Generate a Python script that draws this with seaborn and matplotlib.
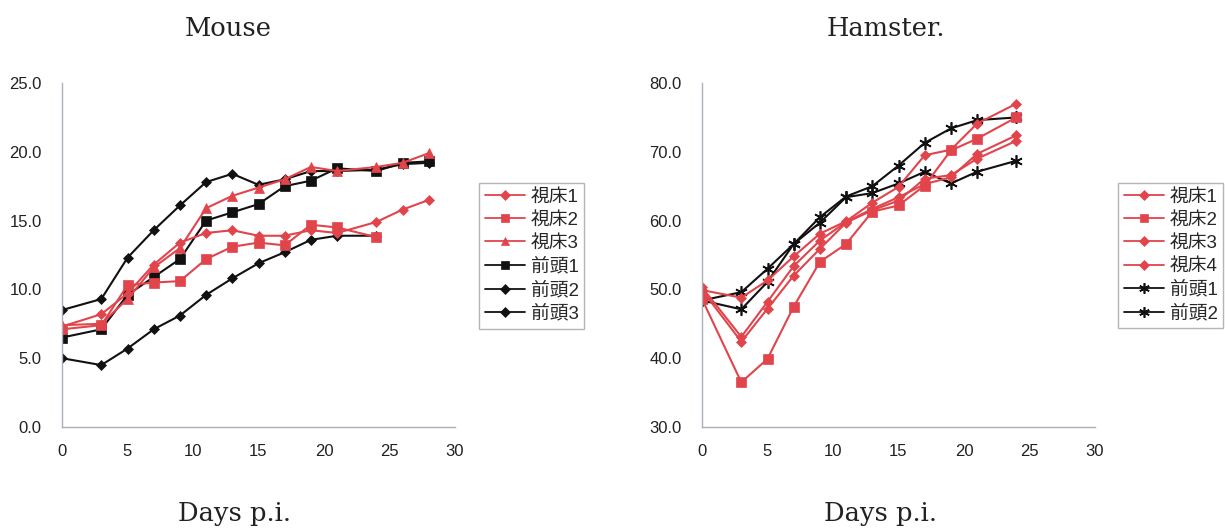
import numpy as np
import pandas as pd
import matplotlib
matplotlib.use("Agg")
import matplotlib.pyplot as plt
import seaborn as sns
from matplotlib.lines import Line2D

# ---------------- data ----------------
mouse_days = [0, 3, 5, 7, 9, 11, 13, 15, 17, 19, 21, 24, 26, 28]
mouse_names = ["視床1", "視床2", "視床3", "前頭1", "前頭2", "前頭3"]
mouse_th1 = [7.3, 8.2, 9.7, 11.8, 13.4, 14.1, 14.3, 13.9, 13.9, 14.3, 14.1, 14.9, 15.8, 16.5]
mouse_th2 = [7.1, 7.4, 10.3, 10.5, 10.6, 12.2, 13.1, 13.4, 13.2, 14.7, 14.5, 13.8]
mouse_th3 = [7.4, 7.5, 9.3, 11.6, 13.0, 15.9, 16.8, 17.4, 18.0, 18.9, 18.6, 18.9, 19.2, 19.9]
mouse_fr1 = [6.5, 7.1, 9.6, 10.9, 12.2, 15.0, 15.6, 16.2, 17.5, 17.9, 18.8, 18.6, 19.2, 19.3]
mouse_fr2 = [8.5, 9.3, 12.3, 14.3, 16.1, 17.8, 18.4, 17.6, 18.0, 18.6, 18.6, 18.7, 19.1, 19.2]
mouse_fr3 = [5.0, 4.5, 5.7, 7.1, 8.1, 9.6, 10.8, 11.9, 12.7, 13.6, 13.9, 13.9]

ham_days = [0, 3, 5, 7, 9, 11, 13, 15, 17, 19, 21, 24]
ham_names = ["視床1", "視床2", "視床3", "視床4", "前頭1", "前頭2"]
ham_th1 = [49.9, 48.8, 51.3, 54.8, 58.1, 59.9, 62.6, 64.9, 69.5, 70.3, 74.1, 77.0]
ham_th2 = [48.6, 36.5, 39.9, 47.5, 54.0, 56.6, 61.3, 62.2, 65.1, 70.2, 71.9, 75.0]
ham_th3 = [50.3, 43.1, 48.2, 53.4, 57.1, 59.8, 61.7, 63.4, 65.3, 66.3, 69.7, 72.4]
ham_th4 = [49.9, 42.4, 47.2, 52.0, 55.9, 59.7, 61.5, 62.9, 66.1, 66.6, 69.0, 71.6]
ham_fr1 = [48.4, 49.6, 53.0, 56.6, 60.5, 63.5, 65.0, 68.0, 71.3, 73.4, 74.6, 75.0]
ham_fr2 = [48.4, 47.1, 51.1, 56.6, 59.7, 63.4, 64.0, 65.4, 67.1, 65.4, 67.1, 68.7]

x_ticks = [0, 5, 10, 15, 20, 25, 30]
mouse_yticks = [0, 5, 10, 15, 20, 25]
ham_yticks = [30, 40, 50, 60, 70, 80]

# ---------------- style ----------------
sns.set_style("white")
plt.rcParams["font.family"] = ["Liberation Sans", "Noto Sans CJK JP"]

RED = "#e2444c"
BLK = "#111111"
SPINE = "#a9aebb"
STAR = (6, 2, 0)


def long_form(days, names, series):
    rows = []
    for n, vals in zip(names, series):
        for d, v in zip(days, vals):
            rows.append({"day": d, "value": v, "series": n})
    return pd.DataFrame(rows)


mouse_df = long_form(mouse_days, mouse_names,
                     [mouse_th1, mouse_th2, mouse_th3, mouse_fr1, mouse_fr2, mouse_fr3])
ham_df = long_form(ham_days, ham_names,
                   [ham_th1, ham_th2, ham_th3, ham_th4, ham_fr1, ham_fr2])

mouse_colors = {"視床1": RED, "視床2": RED, "視床3": RED,
                "前頭1": BLK, "前頭2": BLK, "前頭3": BLK}
mouse_markers = {"視床1": "D", "視床2": "s", "視床3": "^",
                 "前頭1": "s", "前頭2": "D", "前頭3": "D"}
ham_colors = {"視床1": RED, "視床2": RED, "視床3": RED, "視床4": RED,
              "前頭1": BLK, "前頭2": BLK}
ham_markers = {"視床1": "D", "視床2": "s", "視床3": "D", "視床4": "D",
               "前頭1": STAR, "前頭2": STAR}

fig = plt.figure(figsize=(12.27, 5.30), dpi=100)
W, H = 1227, 530
ax1 = fig.add_axes([62 / W, 1 - 427 / H, 393 / W, 344 / H])
ax2 = fig.add_axes([702 / W, 1 - 427 / H, 393 / W, 344 / H])


def msize(m):
    if m == "D":
        return 5.5
    if m == "^":
        return 7
    if m == "s":
        return 6.5
    return 9


def draw(ax, df, names, colors, markers, yticks, ylim, legend_xy):
    for n in names[::-1]:
        sub = df[df["series"] == n]
        m = markers[n]
        sns.lineplot(data=sub, x="day", y="value", ax=ax, color=colors[n],
                     marker=m, markersize=msize(m), markeredgewidth=1.2 if m == STAR else 0.5,
                     markeredgecolor=colors[n], linewidth=1.5, sort=False,
                     errorbar=None, legend=False)
    ax.set_xlim(0, 30)
    ax.set_ylim(*ylim)
    ax.set_xticks(x_ticks)
    ax.set_yticks(yticks)
    ax.set_yticklabels([f"{v:.1f}" for v in yticks])
    ax.set_xlabel("")
    ax.set_ylabel("")
    for s in ["top", "right"]:
        ax.spines[s].set_visible(False)
    for s in ["left", "bottom"]:
        ax.spines[s].set_color(SPINE)
        ax.spines[s].set_linewidth(1.0)
    ax.tick_params(axis="both", direction="in", length=4, width=1.0,
                   color=SPINE, labelsize=12, labelcolor="#222222")
    ax.tick_params(axis="y", pad=14.5)
    ax.tick_params(axis="x", pad=12)
    ax.set_facecolor("white")

    handles = []
    for n in names:
        m = markers[n]
        handles.append(Line2D([0], [0], color=colors[n], marker=m,
                              markersize=msize(m) * 0.85, linewidth=1.3,
                              markeredgecolor=colors[n],
                              markeredgewidth=1.2 if m == STAR else 0.5))
    leg = fig.legend(handles, names, loc="upper left",
                     bbox_to_anchor=(legend_xy[0] / W, 1 - legend_xy[1] / H),
                     frameon=True, fancybox=False, edgecolor="#b5b5b5",
                     prop={"family": ["Liberation Sans", "Noto Sans CJK JP"], "size": 13.5},
                     handlelength=2.15, handletextpad=0.3, labelspacing=0.32,
                     borderpad=0.3, borderaxespad=0, framealpha=1)
    leg.get_frame().set_linewidth(1.0)


draw(ax1, mouse_df, mouse_names, mouse_colors, mouse_markers,
     mouse_yticks, (0, 25), (479, 183))
draw(ax2, ham_df, ham_names, ham_colors, ham_markers,
     ham_yticks, (30, 80), (1118, 183))

serif = {"family": "DejaVu Serif", "size": 18.5, "color": "#222222"}
fig.text(228 / W, 1 - 28 / H, "Mouse", ha="center", va="center", fontdict=serif)
fig.text(886 / W, 1 - 28 / H, "Hamster.", ha="center", va="center", fontdict=serif)
fig.text(234 / W, 1 - 514 / H, "Days p.i.", ha="center", va="center", fontdict=serif)
fig.text(881 / W, 1 - 514 / H, "Days p.i.", ha="center", va="center", fontdict=serif)

fig.savefig("out.png", dpi=100, facecolor="white")
